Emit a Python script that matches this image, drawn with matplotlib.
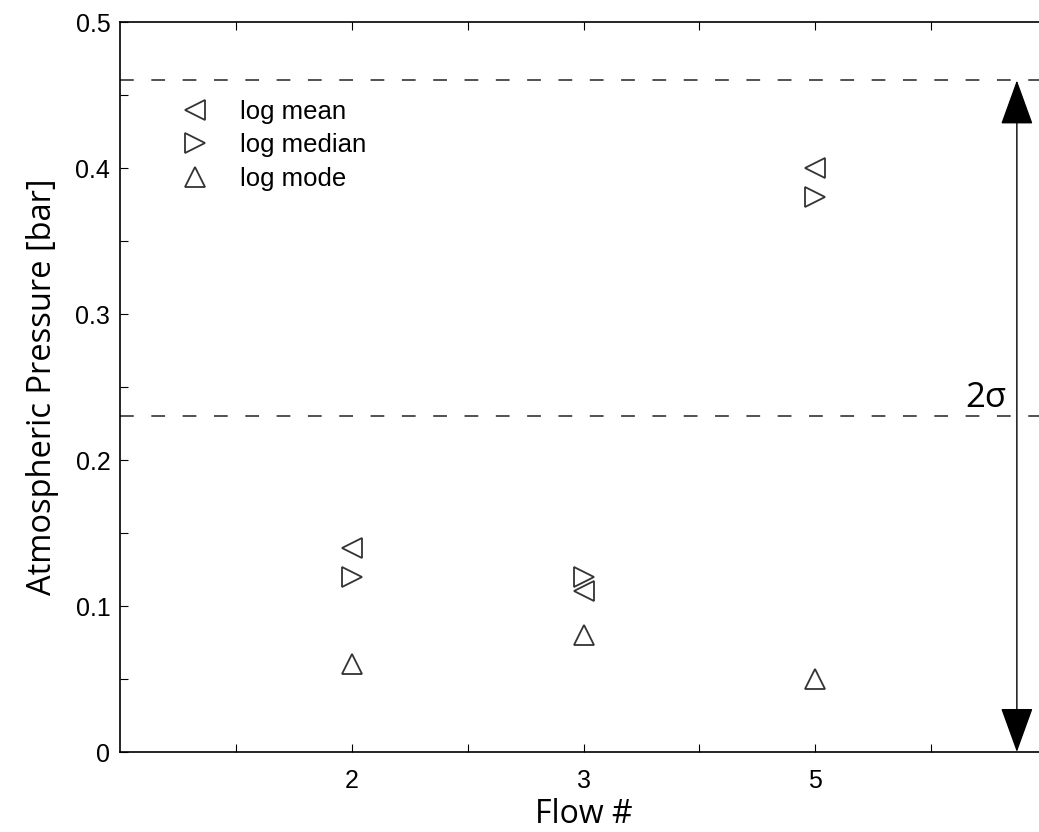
import numpy as np
from matplotlib import pyplot

plt = pyplot

# Data
flows = ["2", "3", "5"]
log_mean = [0.14, 0.11, 0.40]
log_median = [0.12, 0.12, 0.38]
log_mode = [0.06, 0.08, 0.05]
upper_line = 0.46
lower_line = 0.23

tick_font = "Liberation Sans"
label_font = "Open Sans"

fig = plt.figure(figsize=(10.39, 8.32), dpi=100)
# right edge of the box is cut off in the reference
ax = fig.add_axes([120 / 1039, 80 / 832, (1047 - 120) / 1039, (752 - 22) / 832])

x = np.arange(1, len(flows) + 1)
mk = dict(linestyle="none", markerfacecolor="none", markeredgecolor="#333333",
          markeredgewidth=1.3, markersize=14)
ax.plot(x, log_mean, marker="<", label="log mean", **mk)
ax.plot(x, log_median, marker=">", label="log median", **mk)
ax.plot(x, log_mode, marker="^", label="log mode", **mk)

for yv in (upper_line, lower_line):
    ax.axhline(yv, color="#222222", linestyle=(0, (9, 11.5)), linewidth=1.1)

# 2 sigma arrow
ax.annotate("", xy=(3.87, 0.0), xytext=(3.87, upper_line),
            arrowprops=dict(arrowstyle="<|-|>,head_length=2.9,head_width=1.05",
                            color="black", linewidth=1.0, shrinkA=0, shrinkB=0))
ax.text(3.825, 0.231, "2σ", fontsize=25, family=label_font, ha="right", va="bottom")

ax.set_xlim(0, 4.0)
ax.set_ylim(0, 0.5)
xt = np.arange(0.5, 3.51, 0.5)
ax.set_xticks(xt)
ax.set_xticklabels([flows[int(v) - 1] if v == int(v) else "" for v in xt])
yt = np.arange(0, 0.501, 0.05)
ax.set_yticks(yt)
ax.set_yticklabels(["0" if i == 0 else ("%.1f" % v if i % 2 == 0 else "") for i, v in enumerate(yt)])
ax.tick_params(direction="in", length=6, width=0.8, top=True, right=True,
               labelsize=18, pad=7)
ax.tick_params(axis="x", pad=12)
for lab in ax.get_xticklabels() + ax.get_yticklabels():
    lab.set_family(tick_font)
for s in ax.spines.values():
    s.set_linewidth(1.2)

ax.set_xlabel("Flow #", fontsize=23, family=label_font, labelpad=4)
ax.set_ylabel("Atmospheric Pressure [bar]", fontsize=23.5, family=label_font, labelpad=12)

leg = ax.legend(loc="upper left", bbox_to_anchor=(0.035, 0.925), frameon=False,
                prop=dict(family=tick_font, size=18.5), handletextpad=1.0,
                labelspacing=0.37, markerscale=1.0, handlelength=1.5)

fig.savefig("out.png", dpi=100)
